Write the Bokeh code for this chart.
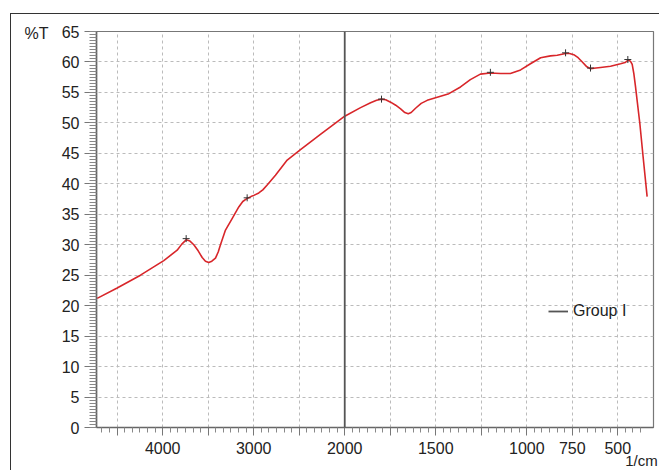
import numpy as np
from bokeh.plotting import figure
from bokeh.models import (Range1d, FixedTicker, Span, Legend, LegendItem, LinearAxis)
from bokeh.embed import file_html
from bokeh.resources import INLINE

# ---- data ----
wavenumber = [4720, 4500, 4244, 3988, 3841, 3790, 3742, 3700, 3658, 3610,
              3566, 3530, 3494, 3460, 3420, 3390, 3365, 3310, 3237, 3164,
              3120, 3072, 3030, 2999, 2944, 2900, 2852, 2761, 2632,
              2486, 2267, 2000, 1913, 1858, 1825, 1798, 1775, 1748, 1720,
              1693, 1670, 1651, 1635, 1611, 1580,
              1547, 1492, 1428, 1364, 1310, 1255, 1200, 1144, 1090, 1034,
              980, 924, 870, 833, 787, 765, 742, 718, 695, 670, 650, 620, 595, 540,
              485, 460, 448, 440, 430, 421, 412, 403, 394, 379, 361, 339]
transmittance = [21.2, 22.9, 25.0, 27.4, 29.1, 30.1, 30.8, 30.6, 30.0, 29.0,
                 27.9, 27.3, 27.1, 27.3, 27.8, 28.8, 30.0, 32.4, 34.3, 36.2,
                 37.1, 37.6, 37.9, 38.1, 38.5, 39.0, 39.8, 41.4, 43.9,
                 45.6, 48.1, 51.1, 52.5, 53.3, 53.7, 53.9, 53.8, 53.4, 52.9,
                 52.3, 51.7, 51.5, 51.7, 52.4, 53.2,
                 53.7, 54.2, 54.8, 55.9, 57.1, 58.0, 58.2, 58.1, 58.1, 58.7,
                 59.7, 60.7, 61.0, 61.1, 61.4, 61.4, 61.2, 60.7, 60.0, 59.2, 58.9, 59.0, 59.1, 59.3,
                 59.7, 59.9, 60.2, 60.3, 60.1, 59.6, 58.1, 56.0, 53.7, 49.9, 44.4, 37.9]

peak_wavenumber = [3742, 3072, 1798, 1200, 787, 650, 445]
peak_transmittance = [31.0, 37.7, 53.9, 58.3, 61.5, 59.0, 60.4]

grid_wavenumbers = [4500, 4000, 3500, 3000, 2500, 2000, 1750, 1500, 1250, 1000, 750, 500]
label_wavenumbers = [4000, 3000, 2000, 1500, 1000, 750, 500]
y_ticks = list(range(0, 70, 5))
x_limits = (4727, 304)
scale_break = 2000
series_name = "Group I"
y_unit = "%T"
x_unit = "1/cm"


def fwd(w):
    """FTIR x-scale: the part below 2000 1/cm is drawn at twice the scale."""
    w = np.asarray(w, dtype=float)
    return np.where(w >= scale_break, w, 2 * w - scale_break)


x_lo, x_hi = float(fwd(x_limits[0])), float(fwd(x_limits[1]))
p = figure(width=649, height=457, output_backend="svg", toolbar_location=None,
           x_range=Range1d(x_lo, x_hi), y_range=Range1d(0, 65),
           min_border_left=85, min_border_right=7, min_border_top=17,
           min_border_bottom=43)
p.styles = {"margin-left": "10px", "margin-top": "13px", "margin-bottom": "-12px",
            "border-left": "1px solid #333", "border-top": "1px solid #333"}
p.background_fill_color = "white"
p.border_fill_color = "white"
p.outline_line_color = "#777777"
p.outline_line_width = 1.2

# x axis
major_u = [float(v) for v in fwd(grid_wavenumbers)]
minor_u = []
for a, b in zip(major_u[:-1], major_u[1:]):
    minor_u += list(np.linspace(a, b, 7)[1:-1])
step = (major_u[0] - major_u[1]) / 6
for k in range(1, 4):
    minor_u.append(major_u[0] + k * step)
    minor_u.append(major_u[-1] - k * step)
p.xaxis.ticker = FixedTicker(ticks=major_u, minor_ticks=minor_u)
overrides = {}
for w, u in zip(grid_wavenumbers, major_u):
    overrides[u] = str(w) if w in label_wavenumbers else ""
p.xaxis.major_label_overrides = overrides

p.yaxis.ticker = FixedTicker(ticks=y_ticks, minor_ticks=list(np.arange(0, 65.01, 0.5)))

for ax in (p.xaxis[0], p.yaxis[0]):
    ax.axis_line_color = "#666666"
    ax.axis_line_width = 1.6
    ax.major_tick_line_color = "#777777"
    ax.minor_tick_line_color = "#888888"
    ax.major_tick_in = 0
    ax.minor_tick_in = 0
    ax.major_label_text_font = "Liberation Sans"
    ax.major_label_text_font_size = "16px"
    ax.major_label_text_color = "#222222"
    ax.major_label_standoff = 5
p.yaxis.major_tick_out = 12
p.yaxis.minor_tick_out = 7
p.xaxis.major_tick_out = 8
p.xaxis.minor_tick_out = 5
p.xaxis.major_label_standoff = 6

p.xgrid.grid_line_color = "#bbbbbb"
p.xgrid.grid_line_dash = "3 3"
p.ygrid.grid_line_color = "#bbbbbb"
p.ygrid.grid_line_dash = "3 3"


def unit_axis(tick, text, standoff, size):
    ax = LinearAxis(ticker=FixedTicker(ticks=[tick], minor_ticks=[]),
                    major_label_overrides={tick: text})
    ax.axis_line_color = None
    ax.major_tick_line_color = None
    ax.minor_tick_line_color = None
    ax.major_tick_out = 0
    ax.major_tick_in = 0
    ax.major_label_standoff = standoff
    ax.major_label_text_font = "Liberation Sans"
    ax.major_label_text_font_size = size
    ax.major_label_text_color = "#222222"
    return ax


# "%T" sits left of the top tick label, "1/cm" under the right end of the x axis
px_per_u = 557.0 / (x_lo - x_hi)
px_per_t = 397.0 / 65.0
p.add_layout(unit_axis(65 - 2 / px_per_t, y_unit, 10, "16px"), "left")
x_unit_pos = x_hi + 12 / px_per_u
p.add_layout(unit_axis(x_unit_pos, x_unit, -5, "15px"), "below")

# scale-break marker
p.add_layout(Span(location=float(fwd(scale_break)), dimension="height",
                  line_color="#555555", line_width=1.8))

# spectrum
p.line(fwd(wavenumber), transmittance, line_color="#d8262a", line_width=1.6,
       line_join="round")
p.scatter(fwd(peak_wavenumber), peak_transmittance, marker="cross", size=7,
          line_color="#333333", line_width=1)

# legend (gray sample line, nothing drawn in the plot)
legend_r = p.line(x=[np.nan], y=[np.nan], line_color="#555555", line_width=1.8)
legend = Legend(items=[LegendItem(label=series_name, renderers=[legend_r])],
                location=(452, 106), border_line_color=None,
                background_fill_alpha=0, padding=0, spacing=0,
                label_text_font="Liberation Sans", label_text_font_size="16px",
                label_text_color="#222222", glyph_width=20, label_standoff=5)
p.add_layout(legend)

open("out.html", "w").write(file_html(p, INLINE))
